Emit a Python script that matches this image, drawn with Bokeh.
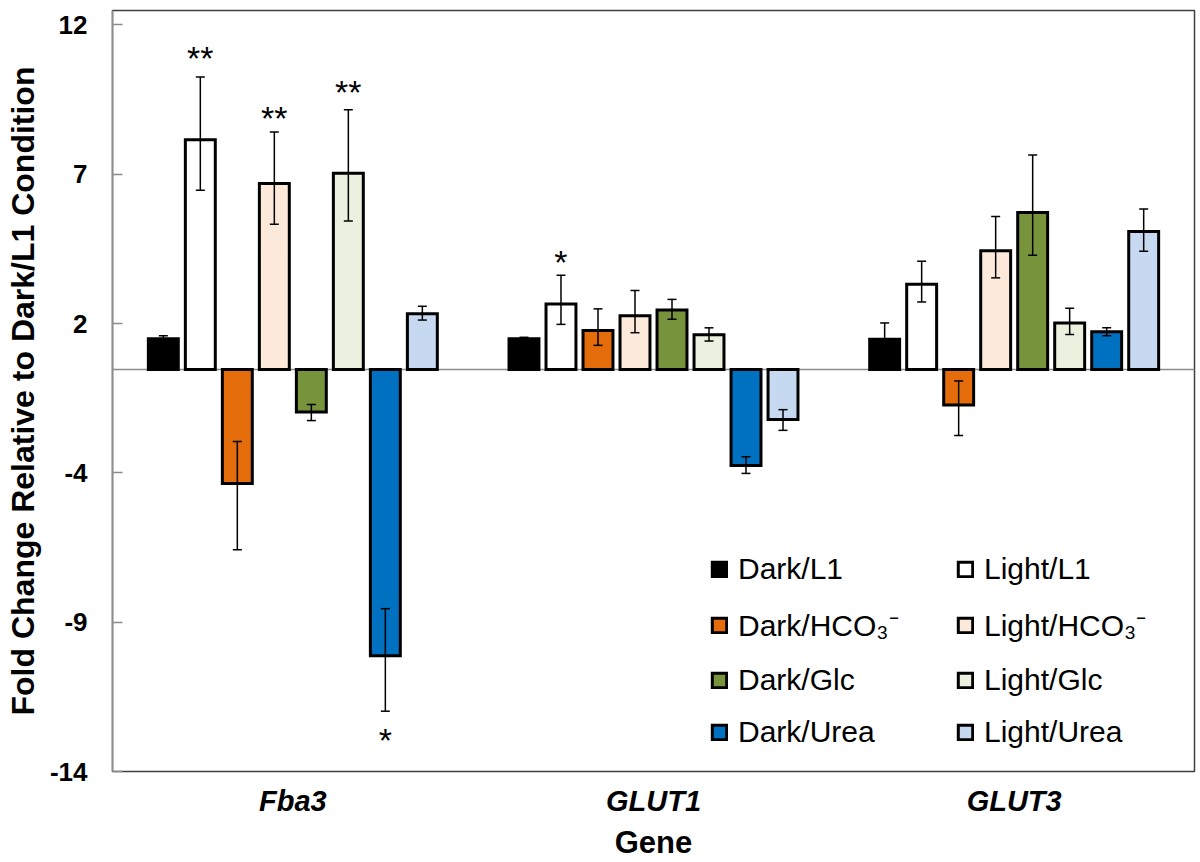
from bokeh.plotting import figure
from bokeh.models import (ColumnDataSource, FactorRange, Range1d, FixedTicker,
                          Whisker, TeeHead, Span, Legend, LegendItem)
from bokeh.transform import dodge
from bokeh.core.properties import value
from bokeh.embed import file_html
from bokeh.resources import INLINE

# ---------------- data ----------------
genes = ["Fba3", "GLUT1", "GLUT3"]
series = ["Dark/L1", "Light/L1", "Dark/HCO\u2083\u207b", "Light/HCO\u2083\u207b",
          "Dark/Glc", "Light/Glc", "Dark/Urea", "Light/Urea"]
colors = ["#000000", "#FFFFFF", "#E46C0A", "#FDE9D9",
          "#77933C", "#EBF1DE", "#0070C0", "#C6D9F1"]

# fold change per gene (Fba3, GLUT1, GLUT3)
dark_l1 = [1.07, 1.07, 1.05]
light_l1 = [8.00, 2.28, 2.97]
dark_hco3 = [-3.97, 1.36, -1.24]
light_hco3 = [6.48, 1.87, 4.13]
dark_glc = [-1.48, 2.07, 5.47]
light_glc = [6.83, 1.21, 1.62]
dark_urea = [-9.97, -3.34, 1.31]
light_urea = [1.94, -1.74, 4.80]

# error bars: upward and downward extents
dark_l1_up = [0.10, 0.05, 0.57]
dark_l1_dn = [0.10, 0.05, 0.57]
light_l1_up = [2.18, 1.00, 0.80]
light_l1_dn = [1.76, 0.71, 0.62]
dark_hco3_up = [1.46, 0.75, 0.84]
dark_hco3_dn = [2.31, 0.52, 1.06]
light_hco3_up = [1.79, 0.88, 1.20]
light_hco3_dn = [1.42, 0.59, 0.94]
dark_glc_up = [0.26, 0.37, 2.00]
dark_glc_dn = [0.30, 0.32, 1.49]
light_glc_up = [2.21, 0.24, 0.51]
light_glc_dn = [1.66, 0.22, 0.40]
dark_urea_up = [1.64, 0.30, 0.14]
dark_urea_dn = [1.93, 0.28, 0.14]
light_urea_up = [0.26, 0.34, 0.79]
light_urea_dn = [0.22, 0.38, 0.68]

# significance marks
star_gene = ["Fba3", "Fba3", "Fba3", "Fba3", "GLUT1"]
star_series = [1, 3, 5, 6, 1]
star_y = [11.0, 8.89, 9.79, -12.75, 3.88]
star_text = ["**", "**", "**", "*", "*"]

tick_values = [12, 6.8, 1.6, -3.6, -8.8, -14]
tick_labels = ["12", "7", "2", "-4", "-9", "-14"]

vals = [dark_l1, light_l1, dark_hco3, light_hco3, dark_glc, light_glc, dark_urea, light_urea]
ups = [dark_l1_up, light_l1_up, dark_hco3_up, light_hco3_up, dark_glc_up, light_glc_up, dark_urea_up, light_urea_up]
dns = [dark_l1_dn, light_l1_dn, dark_hco3_dn, light_hco3_dn, dark_glc_dn, light_glc_dn, dark_urea_dn, light_urea_dn]

FONT = "Liberation Sans"
PITCH = 0.1026
BAR_W = 0.083

p = figure(width=1200, height=862,
           x_range=FactorRange(factors=genes, range_padding=0),
           y_range=Range1d(-14, 12.5),
           output_backend="svg", toolbar_location=None,
           min_border_left=112, min_border_right=6,
           min_border_top=10, min_border_bottom=91)
p.xgrid.visible = False
p.ygrid.visible = False
p.outline_line_color = "#404040"
p.outline_line_width = 1.5
p.background_fill_color = "white"

p.add_layout(Span(location=0, dimension="width", line_color="#8c8c8c",
                  line_width=1.5, level="underlay"))

renderers = []
for i, name in enumerate(series):
    off = (i - 3.5) * PITCH
    src = ColumnDataSource(dict(
        gene=genes, val=vals[i],
        upper=[v + u for v, u in zip(vals[i], ups[i])],
        lower=[v - d for v, d in zip(vals[i], dns[i])]))
    r = p.vbar(x=dodge("gene", off, range=p.x_range), top="val", bottom=0,
               width=BAR_W, fill_color=colors[i], line_color="black",
               line_width=3, line_join="miter", source=src)
    renderers.append(r)
    w = Whisker(base=dodge("gene", off, range=p.x_range), upper="upper", lower="lower",
                source=src, line_color="black", line_width=1.5, level="overlay",
                upper_head=TeeHead(size=9, line_color="black", line_width=1.5),
                lower_head=TeeHead(size=9, line_color="black", line_width=1.5))
    p.add_layout(w)

for g, s, y, t in zip(star_gene, star_series, star_y, star_text):
    off = (s - 3.5) * PITCH
    ssrc = ColumnDataSource(dict(gene=[g], y=[y], t=[t]))
    p.text(x=dodge("gene", off, range=p.x_range), y="y", text="t", source=ssrc,
           text_font=value(FONT), text_font_size="34px", text_color="black",
           text_align="center", text_baseline="middle", y_offset=4)

# y axis
ya = p.yaxis[0]
ya.ticker = FixedTicker(ticks=tick_values)
ya.major_label_overrides = dict(zip(tick_values, tick_labels))
ya.minor_tick_line_color = None
ya.major_tick_in = 10
ya.major_tick_out = 0
ya.major_tick_line_color = "#8c8c8c"
ya.major_tick_line_width = 1.5
ya.axis_line_color = "#8c8c8c"
ya.axis_line_width = 1.5
ya.major_label_text_font = FONT
ya.major_label_text_font_size = "26px"
ya.major_label_text_font_style = "bold"
ya.major_label_text_color = "black"
ya.major_label_standoff = 25
ya.axis_label = "Fold Change Relative to Dark/L1 Condition"
ya.axis_label_text_font = FONT
ya.axis_label_text_font_size = "32px"
ya.axis_label_text_font_style = "bold"
ya.axis_label_text_color = "black"
ya.axis_label_standoff = 6

# x axis
xa = p.xaxis[0]
xa.axis_line_color = None
xa.major_tick_line_color = None
xa.minor_tick_line_color = None
xa.major_label_text_font = FONT
xa.major_label_text_font_size = "29px"
xa.major_label_text_font_style = "bold italic"
xa.major_label_text_color = "black"
xa.major_label_standoff = 7
xa.axis_label = "Gene"
xa.axis_label_text_font = FONT
xa.axis_label_text_font_size = "31px"
xa.axis_label_text_font_style = "bold"
xa.axis_label_text_color = "black"
xa.axis_label_standoff = 5

# legends (two columns)
for col, loc in ((0, (598, 22)), (1, (844, 22))):
    items = [LegendItem(label=series[k], renderers=[renderers[k]])
             for k in range(col, 8, 2)]
    lg = Legend(items=items, location=loc, orientation="vertical",
                label_text_font=FONT, label_text_font_size="30px",
                label_text_color="black", glyph_width=18, glyph_height=18,
                label_standoff=10, spacing=18, padding=0, margin=0,
                border_line_color=None, background_fill_alpha=0)
    p.add_layout(lg)

open("out.html", "w").write(file_html(p, INLINE))
